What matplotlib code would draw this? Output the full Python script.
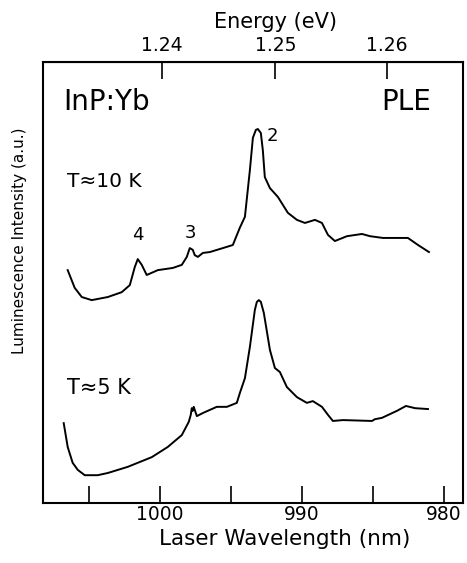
import numpy as np
import matplotlib
matplotlib.use("Agg")
import matplotlib.pyplot as plt

# PLE spectra of InP:Yb (arbitrary units)
wl_10K = [1006.48, 1005.99, 1005.49, 1004.79, 1003.66, 1002.68, 1002.11, 1001.76, 1001.55,
          1001.27, 1000.92, 1000.14, 999.08, 998.45, 998.10, 997.89, 997.68, 997.54, 997.32,
          996.97, 996.48, 995.56, 994.86, 994.37, 994.01, 993.66, 993.45, 993.24, 993.10,
          992.89, 992.75, 992.61, 992.25, 991.69, 990.99, 990.35, 989.79, 989.08, 988.59,
          988.17, 987.68, 986.83, 985.77, 985.21, 984.30, 982.54, 981.83, 981.06]
int_10K = [52.8, 48.8, 46.7, 46.0, 46.7, 47.8, 49.4, 53.5, 55.3,
           54.0, 51.7, 52.8, 53.3, 54.0, 55.8, 57.8, 57.4, 56.2, 55.8,
           56.7, 56.9, 57.8, 58.5, 62.4, 64.9, 75.5, 82.8, 84.6, 84.8,
           83.9, 80.0, 73.9, 71.4, 69.4, 65.8, 64.2, 63.5, 64.2, 63.5,
           60.8, 59.4, 60.5, 61.0, 60.5, 60.1, 60.1, 58.5, 56.9]

wl_5K = [1006.76, 1006.48, 1006.13, 1005.77, 1005.28, 1004.37, 1003.66, 1002.25, 1000.56,
         999.44, 998.45, 997.96, 997.82, 997.75, 997.68, 997.61, 997.54, 997.39, 996.97,
         995.99, 995.28, 994.58, 994.37, 994.01, 993.66, 993.31, 993.17, 993.03, 992.89,
         992.68, 992.25, 991.90, 991.55, 991.06, 990.35, 989.65, 989.23, 988.59, 988.17,
         987.82, 987.11, 985.07, 984.86, 984.37, 983.31, 982.68, 982.04, 981.13]
int_5K = [18.1, 12.7, 9.1, 7.5, 6.3, 6.3, 6.8, 8.2, 10.4,
          12.7, 15.4, 18.4, 20.0, 21.5, 20.9, 21.8, 21.1, 19.7, 20.4,
          21.8, 21.8, 22.7, 24.9, 28.3, 35.4, 43.8, 45.6, 46.0, 45.6,
          43.1, 34.7, 30.6, 29.7, 26.3, 24.0, 22.7, 23.1, 21.8, 20.0,
          18.6, 18.8, 18.6, 19.0, 19.3, 20.9, 22.0, 21.5, 21.3]

major_wl = [1000, 990, 980]
minor_wl = [1005, 995, 985]
energy_ticks = [1.24, 1.25, 1.26]

HC = 1239.84  # eV nm

plt.rcParams['font.family'] = ['DejaVu Sans']

fig = plt.figure(figsize=(4.67, 5.63), dpi=100)
ax = fig.add_axes([0.0914, 0.1066, 0.9011, 0.7833])

ax.plot(wl_10K, int_10K, color='black', lw=1.4)
ax.plot(wl_5K, int_5K, color='black', lw=1.4)

ax.set_xlim(1008.24, 978.63)
ax.set_ylim(0, 100)
ax.set_yticks([])

ax.set_xticks(major_wl)
ax.set_xticklabels([str(w) for w in major_wl])
ax.set_xticks(minor_wl, minor=True)
ax.tick_params(axis='x', which='both', direction='in', length=12, width=1.2,
               labelsize=13.5, pad=1.5)
for s in ax.spines.values():
    s.set_linewidth(1.5)

ax.set_xlabel('Laser Wavelength (nm)', fontsize=15.5)
ax.xaxis.set_label_coords(0.575, -0.058)
ax.set_ylabel('Luminescence Intensity (a.u.)', fontsize=11)
ax.yaxis.set_label_coords(-0.038, 0.594)

sec = ax.secondary_xaxis('top', functions=(lambda w: HC / w, lambda e: HC / e))
sec.set_xticks(energy_ticks)
sec.set_xticklabels(['%.2f' % e for e in energy_ticks])
sec.tick_params(direction='in', length=12, width=1.2, labelsize=13.5, pad=5)
fig.text(276 / 467, 1 - 28 / 563, 'Energy (eV)', fontsize=15, ha='center', va='baseline')

ax.text(0.05, 0.91, 'InP:Yb', transform=ax.transAxes, fontsize=20, va='center')
ax.text(0.923, 0.91, 'PLE', transform=ax.transAxes, fontsize=20, va='center', ha='right')
ax.text(0.057, 0.729, 'T\u224810 K', transform=ax.transAxes, fontsize=14.5, va='center')
ax.text(0.057, 0.26, 'T\u22485 K', transform=ax.transAxes, fontsize=15, va='center')
ax.text(0.226, 0.607, '4', transform=ax.transAxes, fontsize=13, va='center', ha='center')
ax.text(0.35, 0.612, '3', transform=ax.transAxes, fontsize=13, va='center', ha='center')
ax.text(0.545, 0.832, '2', transform=ax.transAxes, fontsize=13, va='center', ha='center')

fig.savefig('out.png', dpi=100)
